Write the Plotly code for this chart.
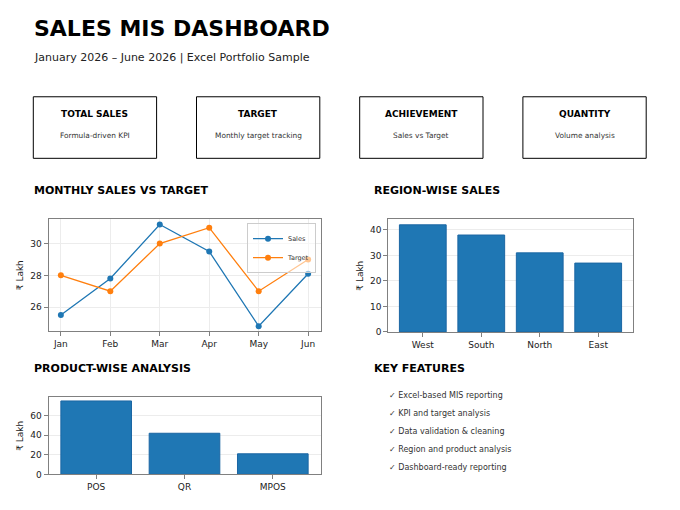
import plotly.graph_objects as go

# chart data
months = ["Jan", "Feb", "Mar", "Apr", "May", "Jun"]
sales = [25.5, 27.8, 31.2, 29.5, 24.8, 28.1]
target = [28, 27, 30, 31, 27, 29]

regions = ["West", "South", "North", "East"]
region_sales = [42, 38, 31, 27]

products = ["POS", "QR", "MPOS"]
product_sales = [75, 42, 21]

kpi_titles = ["TOTAL SALES", "TARGET", "ACHIEVEMENT", "QUANTITY"]
kpi_notes = ["Formula-driven KPI", "Monthly target tracking", "Sales vs Target", "Volume analysis"]

features = [
    "Excel-based MIS reporting",
    "KPI and target analysis",
    "Data validation & cleaning",
    "Region and product analysis",
    "Dashboard-ready reporting",
]

# the page body has an 8px margin all round, keep the page exactly 680x510
OFF = 8
W, H = 680 - 2 * OFF, 510 - 2 * OFF
KY = 1.011  # small vertical stretch, positions came out a bit high
FONT = "DejaVu Sans"
BLUE = "#1f77b4"
ORANGE = "#ff7f0e"


def px(x):
    return (x - OFF) / W


def py(y):
    return 1 - (y - OFF) * KY / H


def bar_range(n):
    # matplotlib style: bars of width 0.8 plus 5% margins
    lo, hi = -0.4, n - 1 + 0.4
    m = 0.05 * (hi - lo)
    return [lo - m, hi + m]


fig = go.Figure()

fig.add_trace(go.Scatter(x=months, y=sales, mode="lines+markers", name="Sales",
                         line=dict(color=BLUE, width=1.3), marker=dict(size=6, color=BLUE),
                         xaxis="x", yaxis="y"))
fig.add_trace(go.Scatter(x=months, y=target, mode="lines+markers", name="Target",
                         line=dict(color=ORANGE, width=1.3), marker=dict(size=6, color=ORANGE),
                         xaxis="x", yaxis="y"))

fig.add_trace(go.Bar(x=regions, y=region_sales, width=0.8, showlegend=False,
                     marker=dict(color=BLUE, line=dict(color="#1b66a3", width=1)),
                     xaxis="x2", yaxis="y2"))
fig.add_trace(go.Bar(x=products, y=product_sales, width=0.8, showlegend=False,
                     marker=dict(color=BLUE, line=dict(color="#1b66a3", width=1)),
                     xaxis="x3", yaxis="y3"))

axis_style = dict(showline=True, linecolor="#808080", linewidth=1, mirror=True,
                  ticks="outside", ticklen=4, tickcolor="#808080",
                  tickfont=dict(family=FONT, size=9, color="#222"),
                  gridcolor="#ececec", gridwidth=0.8, zeroline=False)

lo = min(min(sales), min(target))
hi = max(max(sales), max(target))
pad = 0.05 * (hi - lo)

fig.update_layout(
    xaxis=dict(domain=[px(48.5), px(320.5)], anchor="y", range=[-0.25, len(months) - 0.75],
               showgrid=True, **axis_style),
    yaxis=dict(domain=[py(331), py(219.3)], anchor="x", range=[lo - pad, hi + pad],
               dtick=2, showgrid=True, **axis_style),
    xaxis2=dict(domain=[px(388.3), px(632.7)], anchor="y2", range=bar_range(len(regions)),
                showgrid=False, **axis_style),
    yaxis2=dict(domain=[py(331.7), py(219.3)], anchor="x2", range=[0, max(region_sales) * 1.05],
                dtick=10, showgrid=True, **axis_style),
    xaxis3=dict(domain=[px(48.5), px(320.5)], anchor="y3", range=bar_range(len(products)),
                showgrid=False, **axis_style),
    yaxis3=dict(domain=[py(474), py(397)], anchor="x3", range=[0, max(product_sales) * 1.05],
                dtick=20, showgrid=True, **axis_style),
    width=W, height=H,
    margin=dict(l=0, r=0, t=0, b=0),
    paper_bgcolor="white", plot_bgcolor="white",
    font=dict(family=FONT, color="#222"),
    # plotly legend rows are taller than matplotlib's, so let the Jun point show through
    legend=dict(x=px(316), xanchor="right", y=py(223), yanchor="top",
                bordercolor="#cccccc", borderwidth=1, bgcolor="rgba(255,255,255,0.55)",
                font=dict(family=FONT, size=6.5, color="#333"), itemwidth=30,
                tracegroupgap=0),
    bargap=0.2,
)

annotations = []


def add_text(text, x, y, size, weight="normal", color="#000", xanchor="left", angle=0):
    if xanchor == "left":
        x -= 2  # annotation box padding
    annotations.append(dict(text=text, x=px(x), y=py(y), xref="paper", yref="paper",
                            xanchor=xanchor, yanchor="middle", showarrow=False,
                            textangle=angle,
                            font=dict(family=FONT, size=size, color=color, weight=weight)))


# header
add_text("SALES MIS DASHBOARD", 34, 28, 22, "bold")
add_text("January 2026 – June 2026 | Excel Portfolio Sample", 34, 57, 11, color="#222")

# KPI cards
for i, (t, n) in enumerate(zip(kpi_titles, kpi_notes)):
    x0 = 33.3 + 163.2 * i
    x1 = x0 + 123.3
    fig.add_shape(type="rect", xref="paper", yref="paper",
                  x0=px(x0), x1=px(x1), y0=py(158.2), y1=py(96.7),
                  line=dict(color="#000", width=1), fillcolor="white", layer="below")
    add_text(t, (x0 + x1) / 2, 114.3, 9, "bold", xanchor="center")
    add_text(n, (x0 + x1) / 2, 135, 7.4, color="#333", xanchor="center")

# section titles
add_text("MONTHLY SALES VS TARGET", 34, 190, 11, "bold")
add_text("REGION-WISE SALES", 374, 190, 11, "bold")
add_text("PRODUCT-WISE ANALYSIS", 34, 368.5, 11, "bold")
add_text("KEY FEATURES", 374, 368.5, 11, "bold")

# axis labels
add_text("₹ Lakh", 20, 275, 9, color="#222", xanchor="center", angle=-90)
add_text("₹ Lakh", 360, 275.5, 9, color="#222", xanchor="center", angle=-90)
add_text("₹ Lakh", 20, 435.5, 9, color="#222", xanchor="center", angle=-90)

# feature list
for i, f in enumerate(features):
    add_text("✓ " + f, 388.5, 395 + 18 * i, 8, color="#333")

fig.update_layout(annotations=annotations)

fig.write_html("out.html")
